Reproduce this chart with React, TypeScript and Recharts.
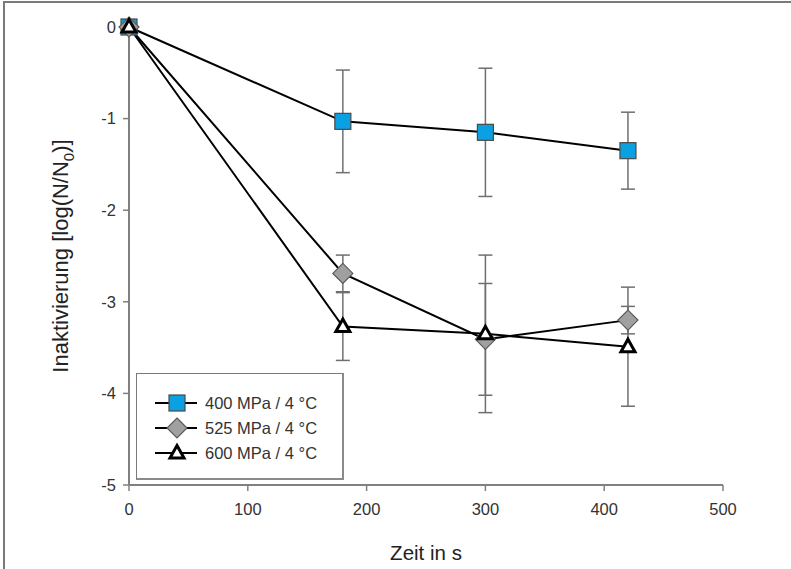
import React from 'react';
import { ComposedChart, Line, XAxis, YAxis, ErrorBar, Legend, Label } from 'recharts';

const times = [0, 180, 300, 420];
const s400 = [0, -1.03, -1.15, -1.35];
const e400 = [null, 0.56, 0.7, 0.42];
const s525 = [0, -2.69, -3.41, -3.2];
const e525 = [null, 0.2, 0.61, 0.15];
const s600 = [0, -3.27, -3.35, -3.49];
const e600 = [null, 0.37, 0.86, 0.65];
const seriesNames = ['400 MPa / 4 °C', '525 MPa / 4 °C', '600 MPa / 4 °C'];
const xTicks = [0, 100, 200, 300, 400, 500];
const yTicks = [0, -1, -2, -3, -4, -5];

const data = times.map((t, i) => ({
  t,
  a: s400[i],
  ea: e400[i],
  b: s525[i],
  eb: e525[i],
  c: s600[i],
  ec: e600[i],
}));

const FONT = '"Liberation Sans", Arial, sans-serif';
const AXIS = '#808080';

function Square({ cx, cy }: { cx: number; cy: number }) {
  return <rect x={cx - 8} y={cy - 8} width={16} height={16} fill="#0aa0e2" stroke="#4a4a4a" strokeWidth={1.2} />;
}
function Diamond({ cx, cy }: { cx: number; cy: number }) {
  return (
    <polygon
      points={`${cx},${cy - 10} ${cx + 10},${cy} ${cx},${cy + 10} ${cx - 10},${cy}`}
      fill="#a0a0a0"
      stroke="#5a5a5a"
      strokeWidth={1.2}
    />
  );
}
function Triangle({ cx, cy }: { cx: number; cy: number }) {
  return (
    <polygon
      points={`${cx},${cy - 7.5} ${cx + 7},${cy + 5} ${cx - 7},${cy + 5}`}
      fill="#ffffff"
      stroke="#000"
      strokeWidth={3}
      strokeLinejoin="miter"
    />
  );
}

const shapes = [Square, Diamond, Triangle];

const makeDot = (Shape: any) => (props: any) => {
  const { cx, cy, index } = props;
  if (cx == null || cy == null) return <g key={index} />;
  return <g key={index}><Shape cx={cx} cy={cy} /></g>;
};

function LegendBox() {
  return (
    <div
      style={{
        width: 208,
        height: 107,
        boxSizing: 'border-box',
        border: '1px solid #7a7a7a',
        borderRight: '2px solid #8a8a8a',
        borderBottom: '2px solid #8a8a8a',
        background: '#fff',
      }}
    >
      <svg width={206} height={105} style={{ display: 'block' }}>
        {seriesNames.map((name, i) => {
          const S = shapes[i];
          const y = 29 + i * 25;
          return (
            <g key={name}>
              <line x1={18} x2={60} y1={y} y2={y} stroke="#000" strokeWidth={2} />
              <S cx={40} cy={y} />
              <text x={68} y={y + 6} fontSize={16.5} fill="#333" fontFamily={FONT}>
                {name}
              </text>
            </g>
          );
        })}
      </svg>
    </div>
  );
}

export default function App() {
  return (
    <div
      style={{
        position: 'absolute',
        left: 0,
        top: 0,
        width: 791,
        height: 569,
        overflow: 'hidden',
        background: '#fff',
        fontFamily: FONT,
      }}
    >
      <div
        style={{
          position: 'absolute',
          left: 3,
          top: 1,
          width: 800,
          height: 600,
          borderTop: '2px solid #7a7a7a',
          borderLeft: '2px solid #7a7a7a',
        }}
      />
      <div style={{ position: 'absolute', left: 0, top: 0 }}>
        <ComposedChart width={791} height={569} data={data} margin={{ top: 27, right: 68, left: 29, bottom: 34 }}>
          <XAxis
            dataKey="t"
            type="number"
            domain={[0, 500]}
            ticks={xTicks}
            axisLine={{ stroke: AXIS, strokeWidth: 2 }}
            tickLine={{ stroke: AXIS, strokeWidth: 1.5 }}
            tickSize={6}
            tickMargin={12}
            tick={{ fill: '#333', fontSize: 16.5, fontFamily: FONT }}
            height={50}
          >
            <Label
              content={({ viewBox }: any) => (
                <text
                  x={viewBox.x + viewBox.width / 2}
                  y={viewBox.y + 75}
                  textAnchor="middle"
                  fontSize={20.5}
                  fill="#222"
                  fontFamily={FONT}
                >
                  Zeit in s
                </text>
              )}
            />
          </XAxis>
          <XAxis
            xAxisId="top"
            orientation="top"
            dataKey="t"
            type="number"
            domain={[0, 500]}
            height={0}
            tick={false}
            tickLine={false}
            axisLine={{ stroke: AXIS, strokeWidth: 2 }}
          />
          <YAxis
            type="number"
            domain={[-5, 0]}
            ticks={yTicks}
            axisLine={{ stroke: AXIS, strokeWidth: 2 }}
            tickLine={{ stroke: AXIS, strokeWidth: 1.5 }}
            tickSize={6}
            tickMargin={7}
            tick={{ fill: '#333', fontSize: 16.5, fontFamily: FONT }}
            width={100}
          >
            <Label
              content={({ viewBox }: any) => {
                const x = viewBox.x + 39;
                const y = viewBox.y + viewBox.height / 2;
                return (
                  <text
                    x={x}
                    y={y}
                    transform={`rotate(-90, ${x}, ${y})`}
                    textAnchor="middle"
                    fontSize={22}
                    fill="#222"
                    fontFamily={FONT}
                  >
                    <tspan>Inaktivierung [log(N/N</tspan>
                    <tspan fontSize={15} dy={6}>0</tspan>
                    <tspan dy={-6}>)]</tspan>
                  </text>
                );
              }}
            />
          </YAxis>
          <YAxis
            yAxisId="right"
            orientation="right"
            type="number"
            domain={[-5, 0]}
            width={0}
            tick={false}
            tickLine={false}
            axisLine={{ stroke: AXIS, strokeWidth: 2 }}
          />
          <Legend
            layout="horizontal"
            verticalAlign="middle"
            align="center"
            wrapperStyle={{ left: 136, top: 373, width: 208, height: 107 }}
            content={() => <LegendBox />}
          />
          <Line
            dataKey="a"
            name={seriesNames[0]}
            stroke="#000"
            strokeWidth={2}
            isAnimationActive={false}
            dot={makeDot(Square)}
            activeDot={false}
          >
            <ErrorBar dataKey="ea" direction="y" width={7} stroke="#6f6f6f" strokeWidth={1.5} />
          </Line>
          <Line
            dataKey="b"
            name={seriesNames[1]}
            stroke="#000"
            strokeWidth={2}
            isAnimationActive={false}
            dot={makeDot(Diamond)}
            activeDot={false}
          >
            <ErrorBar dataKey="eb" direction="y" width={7} stroke="#6f6f6f" strokeWidth={1.5} />
          </Line>
          <Line
            dataKey="c"
            name={seriesNames[2]}
            stroke="#000"
            strokeWidth={2}
            isAnimationActive={false}
            dot={makeDot(Triangle)}
            activeDot={false}
          >
            <ErrorBar dataKey="ec" direction="y" width={7} stroke="#6f6f6f" strokeWidth={1.5} />
          </Line>
        </ComposedChart>
      </div>
    </div>
  );
}
